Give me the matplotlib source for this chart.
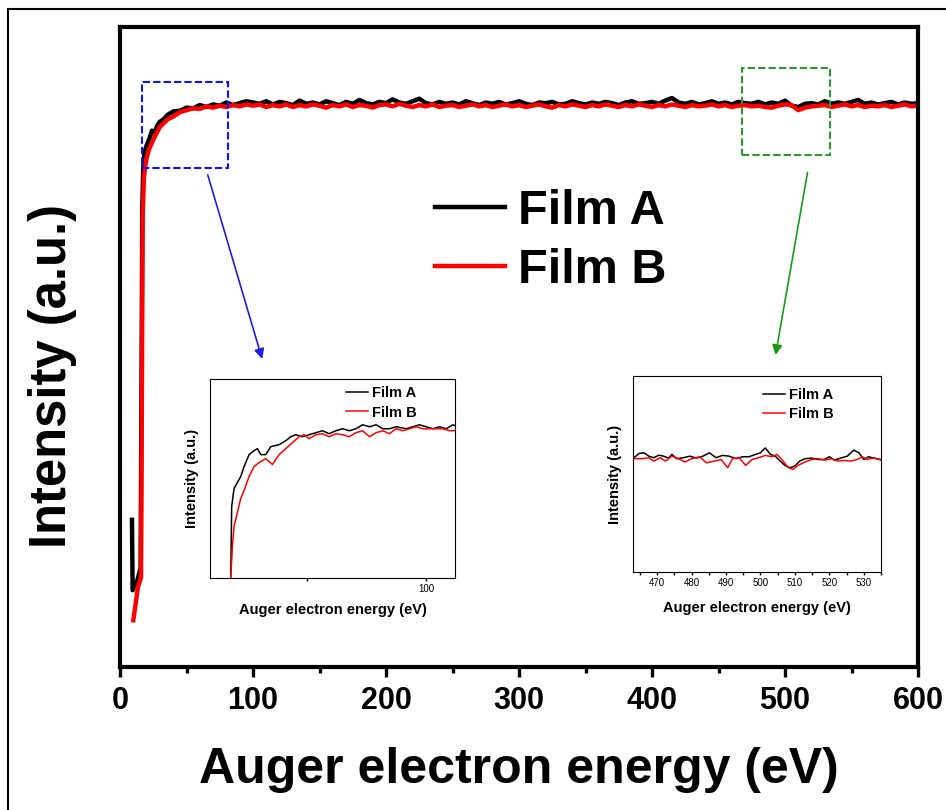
import numpy as np
import matplotlib
matplotlib.use("Agg")
import matplotlib.pyplot as plt
from matplotlib.patches import Rectangle

plt.rcParams.update({
    "font.family": ["Liberation Sans", "DejaVu Sans"],
    "font.weight": "bold",
    "axes.labelweight": "bold",
})

# main spectrum, onset region (eV, a.u.)
e_onset_a = [9.0, 9.5, 13.0, 15.5, 16.2, 16.8, 17.5, 18.5, 20, 22, 24, 26, 28, 30, 33, 36,
             40, 45, 50, 55, 60, 65, 70, 75, 80, 85, 90, 95]
i_onset_a = [23.0, 12.0, 13.5, 15.5, 45.0, 72.0, 78.0, 80.5, 81.5, 82.5, 83.8, 83.5, 84.6,
             85.2, 85.6, 86.3, 86.8, 86.9, 87.4, 87.3, 87.8, 87.5, 87.9, 87.7, 88.2, 87.8,
             88.1, 88.4]
e_onset_b = [10.0, 13.5, 15.8, 16.4, 17.0, 18.0, 19.0, 20, 22, 24, 26, 28, 30, 33, 36, 40,
             45, 50, 55, 60, 65, 70, 75, 80, 85, 90, 95]
i_onset_b = [7.3, 12.5, 14.0, 40.0, 70.0, 76.5, 78.2, 79.5, 81.0, 81.9, 82.8, 83.6, 84.4,
             85.0, 85.6, 86.0, 86.7, 87.0, 87.3, 87.2, 87.6, 87.4, 87.7, 87.5, 87.8, 87.6,
             87.9]

# main spectrum, plateau 100-600 eV every 5 eV
e_plateau = np.arange(100, 601, 5)
i_plateau_a = [
    88.2, 88.0, 88.4, 87.9, 88.3, 88.1, 87.8, 88.5, 88.0, 88.2,
    87.9, 88.4, 88.1, 87.8, 88.3, 88.0, 88.6, 88.1, 87.9, 88.3,
    88.1, 88.7, 88.2, 88.0, 88.4, 88.8, 88.1, 87.9, 88.3, 88.0,
    88.2, 87.9, 88.4, 88.1, 87.8, 88.2, 88.0, 88.3, 87.9, 88.1,
    88.4, 88.0, 87.8, 88.2, 88.1, 88.3, 87.9, 88.0, 88.4, 88.1,
    87.9, 88.2, 88.0, 88.3, 88.1, 87.8, 88.2, 88.4, 88.0, 88.1,
    88.3, 88.0, 88.5, 88.9, 88.2, 88.0, 88.3, 87.9, 88.1, 88.4,
    88.0, 88.2, 87.9, 88.3, 88.1, 88.0, 88.3, 87.9, 88.2, 88.0,
    88.5, 87.7, 87.5, 88.0, 88.1, 87.9, 88.4, 88.0, 88.2, 88.0,
    88.3, 88.6, 88.0, 88.2, 87.9, 88.1, 88.3, 87.9, 88.2, 88.0, 88.1]
i_plateau_b = [
    87.7, 87.9, 87.5, 87.8, 87.6, 87.9, 87.5, 87.8, 87.6, 87.9,
    87.7, 87.4, 87.8, 87.6, 87.9, 87.5, 87.8, 87.7, 87.4, 87.8,
    87.9, 87.6, 88.0, 87.7, 87.5, 87.8, 87.6, 87.9, 87.5, 87.7,
    87.8, 87.5, 87.7, 87.9, 87.6, 87.8, 87.5, 87.7, 87.9, 87.6,
    87.8, 87.5, 87.7, 87.9, 87.6, 87.4, 87.8, 87.6, 87.9, 87.7,
    87.5, 87.8, 87.6, 87.9, 87.7, 87.5, 87.8, 87.6, 87.9, 87.7,
    87.5, 87.8, 87.6, 87.9, 87.7, 87.5, 87.8, 87.6, 87.7, 87.9,
    87.6, 87.8, 87.5, 87.7, 87.8, 87.6, 87.7, 87.5, 87.4, 87.7,
    87.9, 87.8, 87.0, 87.4, 87.6, 87.7, 87.8, 87.5, 87.7, 87.9,
    87.6, 87.8, 87.5, 87.7, 87.6, 87.8, 87.5, 87.7, 87.9, 87.6, 87.7]

# inset 1: onset close-up
in1_e_a = [17.9, 18.3, 19.3, 20.7, 22.1, 23.5, 25.6, 27.7, 29.1, 30.5, 32.6, 34.7, 38.2,
           41.0, 43.1, 45.2, 48.0, 50.8, 53.6, 56.4, 59.2, 62.0, 64.8, 67.6, 70.4, 73.2,
           76.1, 78.9, 81.7, 84.5, 87.3, 91.5, 94.3, 97.1, 99.9, 102.7, 105.5, 108.3,
           111.1, 112.9]
in1_i_a = [0, 36, 45, 48, 51, 56, 62, 64, 65, 62, 62, 66, 67, 69, 71, 72, 71, 72, 73, 74,
           72.5, 74, 75, 74, 75, 77, 76, 77, 75, 75, 76, 75, 76, 77, 76, 75, 76, 75, 77, 76]
in1_e_b = [17.9, 18.6, 19.3, 20.7, 22.1, 23.5, 25.6, 27.7, 29.8, 32.6, 35.4, 38.2, 41.0,
           43.8, 46.6, 48.7, 50.8, 53.6, 56.4, 59.2, 62.0, 64.8, 67.6, 70.4, 73.2, 76.1,
           78.9, 81.7, 84.5, 87.3, 90.1, 92.9, 95.7, 98.5, 101.3, 104.1, 106.9, 109.7, 112.9]
in1_i_b = [0, 16, 26, 33, 40, 44, 51, 56, 58, 60, 57, 62, 65, 68, 71, 72, 70, 72, 72.5,
           71, 72.5, 72, 71, 73, 74, 71, 73, 74, 72.5, 75, 74, 75, 76, 75, 75, 75, 75, 74, 74]

# inset 2: 463-535 eV close-up
in2_e_a = [463.3, 464.8, 466.2, 467.6, 469.0, 470.5, 471.9, 473.3, 474.3, 475.7, 477.6,
           479.5, 481.4, 483.3, 485.2, 487.1, 489.0, 490.9, 492.9, 494.8, 496.7, 498.6,
           500.0, 501.4, 502.9, 504.3, 505.7, 507.1, 508.6, 510.0, 511.4, 512.9, 514.8,
           516.7, 518.6, 520.0, 521.4, 523.3, 525.2, 527.1, 528.6, 530.0, 531.4, 532.9, 534.9]
in2_i_a = [58.3, 60.5, 60.8, 59.1, 58.3, 59.6, 59.1, 58.1, 60.0, 57.8, 58.3, 59.1, 58.1,
           59.1, 60.8, 58.3, 59.5, 59.1, 57.8, 58.8, 58.8, 60.0, 60.8, 63.3, 60.0, 59.1,
           56.6, 54.4, 53.2, 54.1, 56.6, 57.8, 58.1, 57.4, 57.4, 58.8, 57.1, 58.1, 59.1,
           62.2, 60.8, 57.4, 58.8, 58.1, 57.4]
in2_e_b = [463.3, 466.2, 467.6, 469.0, 470.9, 472.4, 474.3, 476.2, 478.1, 480.0, 482.4,
           484.3, 486.7, 488.6, 490.5, 491.9, 493.8, 495.7, 497.6, 499.5, 501.4, 503.3,
           504.8, 506.2, 508.1, 509.5, 510.9, 512.9, 514.8, 516.7, 518.6, 520.5, 522.4,
           524.3, 526.2, 528.1, 529.5, 531.0, 532.9, 534.9]
in2_i_b = [57.8, 57.9, 58.3, 56.6, 58.3, 56.6, 59.1, 57.8, 56.1, 57.8, 58.8, 55.7, 56.6,
           57.4, 53.2, 57.8, 58.3, 54.4, 57.4, 58.3, 59.5, 58.8, 60.0, 57.4, 53.2, 52.4,
           54.4, 56.1, 57.4, 57.8, 57.1, 57.8, 56.6, 56.9, 56.6, 57.4, 58.8, 57.4, 58.3, 57.1]

labels = ["Film A", "Film B"]

W, H = 946, 810
fig = plt.figure(figsize=(9.46, 8.10), dpi=100)


def px_axes(l, t, r, b):
    return fig.add_axes([l / W, 1 - b / H, (r - l) / W, (b - t) / H])


ax = px_axes(120, 27, 918, 667)
ax.plot(list(e_onset_a) + list(e_plateau), i_onset_a + i_plateau_a, color="black",
        lw=3.2, label=labels[0])
ax.plot(list(e_onset_b) + list(e_plateau), i_onset_b + i_plateau_b, color="#ff0000",
        lw=3.2, label=labels[1])
ax.set_xlim(0, 600)
ax.set_ylim(0, 100)
ax.set_xticks([0, 100, 200, 300, 400, 500, 600])
ax.set_xticks([50, 150, 250, 350, 450, 550], minor=True)
ax.set_yticks([])
ax.tick_params(axis="x", which="major", direction="out", length=7, width=2.4,
               labelsize=22, pad=7)
ax.tick_params(axis="x", which="minor", direction="out", length=4, width=2.4)
for s in ax.spines.values():
    s.set_linewidth(3)
ax.set_xlabel("Auger electron energy (eV)", fontsize=36, labelpad=22)
ax.set_ylabel("Intensity (a.u.)", fontsize=36.5)
ax.yaxis.set_label_coords(-0.054, 0.455)
ax.legend(loc="upper left", bbox_to_anchor=(0.3947, 0.7466), frameon=False,
          fontsize=35, borderpad=0, borderaxespad=0, handlelength=1.44,
          handletextpad=0.27, labelspacing=0.29)

# zoom boxes and arrows
ax.add_patch(Rectangle((16.5, 78.0), 64.5, 13.4, fill=False, ec="#1010ff", lw=1.5,
                       ls=(0, (3.5, 1.5)), zorder=5))
ax.add_patch(Rectangle((468, 80.0), 66, 13.6, fill=False, ec="#2a9a2a", lw=1.5,
                       ls=(0, (3.5, 1.5)), zorder=5))
ax.annotate("", xy=(107.5, 47.7), xytext=(65.4, 77.3),
            arrowprops=dict(arrowstyle="-|>", color="#2020e0", lw=1.2, mutation_scale=15))
ax.annotate("", xy=(492.5, 48.3), xytext=(517.3, 77.7),
            arrowprops=dict(arrowstyle="-|>", color="#1a9a1a", lw=1.2, mutation_scale=15))

# inset 1
ia = px_axes(210, 379, 455, 578)
ia.plot(in1_e_a, in1_i_a, color="black", lw=1.1, label=labels[0])
ia.plot(in1_e_b, in1_i_b, color="#ff0000", lw=1.1, label=labels[1])
ia.set_xlim(9.2, 112)
ia.set_ylim(0, 100)
ia.set_xticks([50, 100])
ia.set_xticklabels(["", "100"])
ia.set_yticks([])
ia.tick_params(axis="x", direction="out", length=2.5, width=1, labelsize=7, pad=2)
for lab in ia.get_xticklabels():
    lab.set_fontweight("normal")
ia.set_xlabel("Auger electron energy (eV)", fontsize=10.5, labelpad=6)
ia.set_ylabel("Intensity (a.u.)", fontsize=10.5, labelpad=8)
ia.legend(loc="upper left", bbox_to_anchor=(0.555, 0.965), frameon=False, fontsize=10.5,
          borderpad=0, borderaxespad=0, handlelength=1.5, handletextpad=0.3,
          labelspacing=0.38)

# inset 2
ib = px_axes(633, 376, 881, 572)
ib.plot(in2_e_a, in2_i_a, color="black", lw=1.1, label=labels[0])
ib.plot(in2_e_b, in2_i_b, color="#ff0000", lw=1.1, label=labels[1])
ib.set_xlim(463, 535)
ib.set_ylim(0, 100)
ib.set_xticks([470, 480, 490, 500, 510, 520, 530])
ib.set_xticks([465, 475, 485, 495, 505, 515, 525, 535], minor=True)
ib.set_yticks([])
ib.tick_params(axis="x", which="both", direction="out", length=2.5, width=1,
               labelsize=7, pad=2)
for lab in ib.get_xticklabels():
    lab.set_fontweight("normal")
ib.set_xlabel("Auger electron energy (eV)", fontsize=10.5, labelpad=9)
ib.set_ylabel("Intensity (a.u.)", fontsize=10.5, labelpad=8)
ib.legend(loc="upper left", bbox_to_anchor=(0.524, 0.94), frameon=False, fontsize=10.5,
          borderpad=0, borderaxespad=0, handlelength=1.5, handletextpad=0.3,
          labelspacing=0.38)

# outer frame
fig.add_artist(Rectangle((8 / W, -0.05), 2, 1.05 - 9 / H, transform=fig.transFigure,
                         fill=False, ec="black", lw=1.5, clip_on=False))

fig.savefig("out.png", dpi=100)
